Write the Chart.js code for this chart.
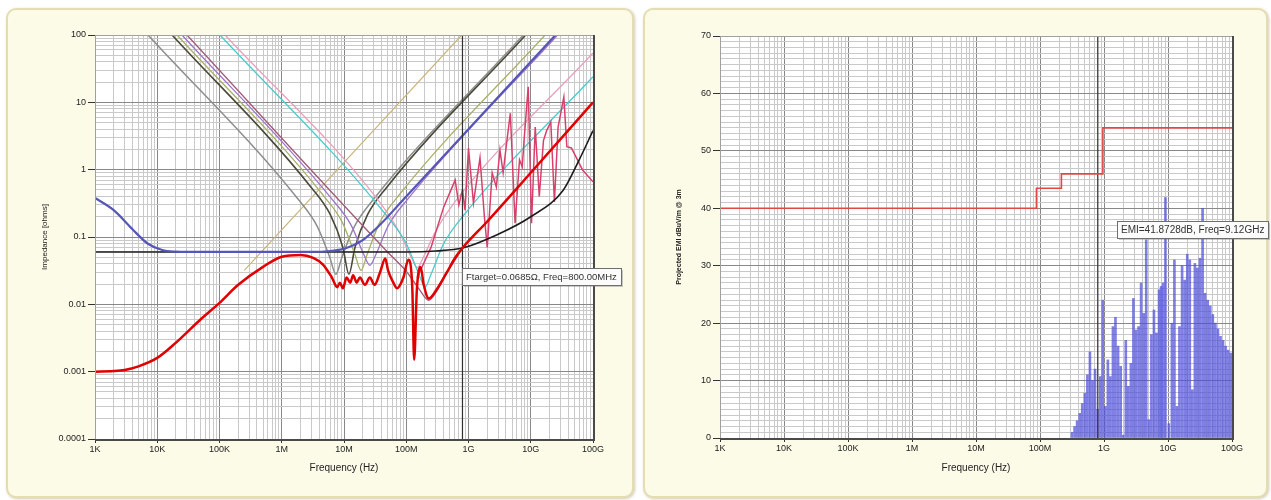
<!DOCTYPE html>
<html>
<head>
<meta charset="utf-8">
<script src="https://cdn.jsdelivr.net/npm/chart.js"></script>
<style>
  html, body { margin: 0; padding: 0; background: #fff; width: 1271px; height: 500px; overflow: hidden; }
  .card { position: absolute; top: 8px; height: 486px; background: #fcfbe8; border: 2px solid #e5ddb2; border-radius: 10px; box-shadow: 1px 1px 3px rgba(150, 140, 90, 0.45); }
  #cardL { left: 6px; width: 624px; }
  #cardR { left: 643px; width: 621px; }
  canvas { position: absolute; top: 8px; }
</style>
</head>
<body>
<div class="card" id="cardL"></div>
<div class="card" id="cardR"></div>
<canvas id="zChart" width="626" height="489" style="left:8px"></canvas>
<canvas id="emiChart" width="626" height="489" style="left:645px"></canvas>
<script>
// axis ticks
const xDecades = [1e3, 1e4, 1e5, 1e6, 1e7, 1e8, 1e9, 1e10, 1e11];
const xTickLabels = ['1K', '10K', '100K', '1M', '10M', '100M', '1G', '10G', '100G'];
const zDecades = [1e-4, 1e-3, 1e-2, 1e-1, 1, 10, 100];
const zTickLabels = ['0.0001', '0.001', '0.01', '0.1', '1', '10', '100'];
const emiTicks = [0, 10, 20, 30, 40, 50, 60, 70];

// markers
const markerFreq = 800e6;
const targetZ = 0.0685;
const emiPeakFreq = 9.12e9;
const emiPeak = 41.8728;

// impedance curves (Hz, ohms)
const redF = [1e3, 2e3, 3e3, 5e3, 1e4, 2e4, 5e4, 1e5, 2e5, 5e5, 1e6, 2e6, 3.2e6, 4.6e6, 6.4e6, 7.8e6, 8.6e6, 9.6e6, 1.1e7, 1.26e7, 1.4e7, 1.6e7, 1.8e7, 2.17e7, 2.6e7, 3.1e7, 3.8e7, 4.6e7, 5.1e7, 6.2e7, 7.1e7, 9e7, 1.08e8, 1.25e8, 1.34e8, 1.48e8, 1.7e8, 1.9e8, 2.3e8, 3e8, 4.5e8, 6e8, 8e8, 2e9, 1e10, 1e11];
const redZ = [0.001, 0.00102, 0.00106, 0.0012, 0.0016, 0.0027, 0.006, 0.0105, 0.0195, 0.036, 0.051, 0.054, 0.049, 0.039, 0.025, 0.018, 0.021, 0.0173, 0.025, 0.021, 0.027, 0.021, 0.025, 0.0195, 0.025, 0.0195, 0.03, 0.048, 0.032, 0.021, 0.0173, 0.025, 0.046, 0.0178, 0.0015, 0.0163, 0.036, 0.02, 0.0122, 0.016, 0.03, 0.048, 0.0685, 0.17, 0.9, 10];

const blackF = [1e3, 1e8, 3e8, 8e8, 3e9, 1e10, 3.3e10, 6e10, 1e11];
const blackZ = [0.06, 0.06, 0.062, 0.0685, 0.11, 0.2, 0.49, 1.4, 3.8];

const navyF = [1e3, 2e3, 4e3, 7e3, 1.2e4, 2e4, 3e4, 3e6, 6e6, 1e7, 2e7, 4e7, 8e7, 2e8, 2.5e10];
const navyZ = [0.38, 0.25, 0.13, 0.08, 0.064, 0.0605, 0.06, 0.06, 0.062, 0.067, 0.09, 0.16, 0.32, 0.8, 100];

const grayF = [7.1e3, 1.85e6, 3.7e6, 5.9e6, 7.4e6, 9.25e6, 1.48e7, 2.96e7, 7.6e9];
const grayZ = [100, 0.36, 0.145, 0.05, 0.028, 0.05, 0.145, 0.36, 100];

const oliveF = [1.73e4, 3e6, 6e6, 9.6e6, 1.2e7, 1.5e7, 2.4e7, 4.8e7, 8.3e9];
const oliveZ = [100, 0.54, 0.216, 0.07, 0.028, 0.07, 0.216, 0.54, 100];

const khakiF = [2.08e4, 4.7e6, 9.4e6, 1.5e7, 1.88e7, 2.35e7, 3.76e7, 7.5e7, 1.7e10];
const khakiZ = [100, 0.41, 0.165, 0.055, 0.032, 0.055, 0.165, 0.41, 100];

const purpleF = [2.5e4, 6.5e6, 1.3e7, 2.08e7, 2.6e7, 3.25e7, 5.2e7, 1.04e8, 2.7e10];
const purpleZ = [100, 0.36, 0.15, 0.055, 0.038, 0.055, 0.15, 0.36, 100];

const mauveF = [3e4, 5e7, 1e8, 1.6e8, 2.3e8, 3e8, 4.5e8, 8e8];
const mauveZ = [100, 0.06, 0.031, 0.017, 0.0115, 0.015, 0.029, 0.068];

const cyanF = [1.02e5, 5e7, 1e8, 1.6e8, 2e8, 2.5e8, 4e8, 8e8, 1e11];
const cyanZ = [100, 0.2, 0.08, 0.028, 0.018, 0.028, 0.08, 0.2, 24];

const pinkF = [1.23e5, 3.75e7, 7.5e7, 1.2e8, 1.5e8, 1.88e8, 3e8, 6e8, 1e11];
const pinkZ = [100, 0.33, 0.125, 0.05, 0.035, 0.05, 0.125, 0.33, 54];

const tanF = [2.5e5, 7.8e8];
const tanZ = [0.032, 100];

const pkgF = [1.5e8, 2.5e8, 4e8, 6.1e8, 7e8, 8e8, 8.8e8, 1e9, 1.2e9, 1.53e9, 1.8e9, 2e9, 2.4e9, 2.8e9, 3.2e9, 3.6e9, 4.1e9, 4.7e9, 5.6e9, 6.6e9, 7.3e9, 7.8e9, 9.1e9, 1.03e10, 1.18e10, 1.37e10, 1.6e10, 1.8e10, 2.1e10, 2.4e10, 2.75e10, 3.4e10, 3.8e10, 4.5e10, 6.8e10, 1e11];
const pkgZ = [0.025, 0.07, 0.28, 0.7, 0.3, 0.5, 0.25, 2.1, 0.32, 1.5, 0.2, 0.07, 0.9, 0.55, 1.95, 0.9, 2.5, 6.9, 0.16, 1.4, 1.1, 2.7, 17, 0.16, 4.3, 0.4, 2.7, 3.8, 5.1, 0.33, 4.3, 12, 2.2, 2.1, 0.99, 0.66];

// EMI spectrum (Hz, dBuV/m) and limit
const emiF = [3.16e8, 3.47e8, 3.8e8, 4.17e8, 4.57e8, 5.01e8, 5.5e8, 6.03e8, 6.61e8, 7.24e8, 7.94e8, 8.71e8, 9.55e8,
  1.05e9, 1.15e9, 1.26e9, 1.38e9, 1.51e9, 1.66e9, 1.82e9, 2.0e9, 2.19e9, 2.4e9, 2.63e9, 2.88e9, 3.16e9, 3.47e9, 3.8e9, 4.17e9, 4.57e9, 5.01e9, 5.5e9, 6.03e9, 6.61e9, 7.24e9, 7.8e9, 8.4e9, 9.12e9,
  1.03e10, 1.15e10, 1.26e10, 1.38e10, 1.51e10, 1.66e10, 1.82e10, 2.0e10, 2.19e10, 2.4e10, 2.63e10, 2.88e10, 3.16e10, 3.47e10, 3.8e10, 4.17e10, 4.57e10, 5.01e10, 5.5e10, 6.03e10, 6.61e10, 7.24e10, 7.94e10, 8.71e10, 9.55e10];
const emiDb = [1, 2, 3, 4.3, 6, 7.8, 11, 15, 10, 12, 5, 10.7, 24,
  5.5, 13.6, 10.7, 19.4, 21, 16, 12.5, 0.5, 17, 9, 13, 24.3, 18.8, 19.4, 27, 21.7, 34.5, 3.2, 18, 22.3, 18.3, 25.8, 26.4, 27, 41.87,
  2.5, 20, 31, 5.5, 19.4, 30, 27.5, 32, 31, 8.4, 30.4, 29.6, 31.3, 40, 25.2, 24, 23, 21.5, 20, 19, 17.7, 17, 16, 15.3, 14.8];

const limitF = [1e3, 88e6, 216e6, 960e6, 1e11];
const limitDb = [40, 43.5, 46, 54, 54];

Chart.defaults.font.family = '"Liberation Sans", Arial, sans-serif';
Chart.defaults.color = '#222';

const pts = (f, v) => f.map((x, i) => ({ x: x, y: v[i] }));
const sameAs = (v, list) => list.some(d => Math.abs(v / d - 1) < 1e-6);
const labelOf = (v, list, labels) => {
  const i = list.findIndex(d => Math.abs(v / d - 1) < 1e-6);
  return i < 0 ? '' : labels[i];
};
function logSteps(decades) {
  const out = [];
  for (let i = 0; i < decades.length - 1; i++) {
    for (let m = 1; m <= 9; m++) out.push(m * decades[i]);
  }
  out.push(decades[decades.length - 1]);
  return out;
}

const MAJOR = '#888888', MINOR = '#c9c9c9';

function freqAxis() {
  return {
    type: 'logarithmic', min: 1e3, max: 1e11, offset: false,
    afterBuildTicks: s => { s.ticks = logSteps(xDecades).map(v => ({ value: v })); },
    afterFit: s => { s.height = s.chart.canvas.id === 'zChart' ? 58 : 59; },
    ticks: { autoSkip: false, maxRotation: 0, padding: 1, font: { size: 9 }, color: '#222',
      callback: v => labelOf(v, xDecades, xTickLabels) },
    grid: { offset: false, tickLength: 4,
      color: c => sameAs(c.tick.value, xDecades) ? MAJOR : MINOR,
      tickColor: c => sameAs(c.tick.value, xDecades) ? '#333' : 'rgba(0,0,0,0)' },
    border: { display: false },
    title: { display: true, text: 'Frequency (Hz)', font: { size: 10 }, color: '#222', padding: { top: 0, bottom: 23 } }
  };
}

const plotFrame = {
  id: 'plotFrame',
  beforeDraw(chart) {
    const { ctx, chartArea: a } = chart;
    ctx.save();
    ctx.fillStyle = '#ffffff';
    ctx.fillRect(a.left, a.top, a.right - a.left, a.bottom - a.top);
    ctx.restore();
  },
  afterDraw(chart, args, opts) {
    const { ctx, chartArea: a, scales } = chart;
    ctx.save();
    ctx.strokeStyle = '#a0a0a0';
    ctx.lineWidth = 1;
    ctx.strokeRect(a.left + 0.5, a.top + 0.5, a.right - a.left, a.bottom - a.top);
    ctx.strokeStyle = '#4a4a4a';
    ctx.lineWidth = 2;
    ctx.beginPath();
    ctx.moveTo(a.left, a.bottom + 1);
    ctx.lineTo(a.right + 2, a.bottom + 1);
    ctx.moveTo(a.right + 1, a.top);
    ctx.lineTo(a.right + 1, a.bottom + 1);
    ctx.stroke();

    const n = opts.note;
    if (n) {
      const px = Math.round(scales.x.getPixelForValue(n.x) + n.dx);
      const py = Math.round(scales.y.getPixelForValue(n.y) + n.dy);
      ctx.font = n.size + 'px "Liberation Sans", Arial, sans-serif';
      const w = Math.round(ctx.measureText(n.text).width + 8);
      const h = 17;
      ctx.fillStyle = 'rgba(110,110,110,0.35)';
      ctx.fillRect(px + 2, py + 2, w, h);
      ctx.fillStyle = '#fbfbfb';
      ctx.fillRect(px, py, w, h);
      ctx.strokeStyle = '#6e6e6e';
      ctx.lineWidth = 1;
      ctx.strokeRect(px + 0.5, py + 0.5, w, h);
      ctx.fillStyle = '#333';
      ctx.textBaseline = 'middle';
      ctx.fillText(n.text, px + 4, py + h / 2 + 1);
    }
    ctx.restore();
  }
};

const curve = (f, z, color, width, order, extra) => Object.assign({
  data: pts(f, z), borderColor: color, borderWidth: width, pointRadius: 0,
  cubicInterpolationMode: 'monotone', order: order
}, extra || {});

new Chart(document.getElementById('zChart'), {
  type: 'line',
  data: {
    datasets: [
      curve(redF, redZ, '#e00000', 2.5, 1),
      curve([markerFreq, markerFreq], [1e-4, 100], '#303030', 1.2, 2, { tension: 0 }),
      curve(blackF, blackZ, '#1c1c1c', 1.6, 4),
      curve(navyF, navyZ, '#5656b8', 2.2, 3),
      curve(pkgF, pkgZ, '#d8406c', 1.5, 5, { tension: 0, cubicInterpolationMode: 'default' }),
      curve(mauveF, mauveZ, '#a05a78', 1.3, 6),
      curve(cyanF, cyanZ, '#48cccc', 1.3, 7),
      curve(pinkF, pinkZ, '#e8a0bc', 1.3, 8),
      curve(purpleF, purpleZ, '#9c74c8', 1.3, 9),
      curve(khakiF, khakiZ, '#a8b068', 1.3, 10),
      curve(oliveF, oliveZ, '#4a4a3a', 1.6, 11),
      curve(grayF, grayZ, '#8e8e8e', 1.5, 12),
      curve(tanF, tanZ, '#c8b47c', 1.2, 13, { tension: 0 })
    ]
  },
  options: {
    responsive: false,
    devicePixelRatio: 1,
    animation: false,
    layout: { padding: { top: 27, right: 41, bottom: 0, left: 0 } },
    plugins: {
      legend: { display: false },
      tooltip: { enabled: false },
      plotFrame: { note: { x: markerFreq, y: targetZ, dx: 0, dy: 20, size: 9.5,
        text: 'Ftarget=' + targetZ.toFixed(4) + 'Ω, Freq=' + (markerFreq / 1e6).toFixed(2) + 'MHz' } }
    },
    scales: {
      x: freqAxis(),
      y: {
        type: 'logarithmic', min: 1e-4, max: 100,
        afterBuildTicks: s => { s.ticks = logSteps(zDecades).map(v => ({ value: v })); },
        afterFit: s => { s.width = 87; },
        ticks: { autoSkip: false, padding: 2, font: { size: 9 }, color: '#222',
          callback: v => labelOf(v, zDecades, zTickLabels) },
        grid: { tickLength: 7,
          color: c => sameAs(c.tick.value, zDecades) ? MAJOR : MINOR,
          tickColor: c => sameAs(c.tick.value, zDecades) ? '#333' : 'rgba(0,0,0,0)' },
        border: { display: false },
        title: { display: true, text: 'Impedance [ohms]', font: { size: 8 }, color: '#222', padding: { top: 32, bottom: 0 } }
      }
    }
  },
  plugins: [plotFrame]
});

new Chart(document.getElementById('emiChart'), {
  type: 'bar',
  data: {
    datasets: [
      { type: 'line', data: pts(limitF, limitDb), stepped: 'before', borderColor: '#e04848', borderWidth: 1.6, pointRadius: 0, order: 1 },
      { type: 'line', data: pts([markerFreq, markerFreq], [0, 70]), borderColor: '#303030', borderWidth: 1.2, pointRadius: 0, order: 2 },
      { type: 'bar', data: pts(emiF, emiDb), backgroundColor: 'rgba(78,78,218,0.72)', borderWidth: 0, barThickness: 2, order: 3 }
    ]
  },
  options: {
    responsive: false,
    devicePixelRatio: 1,
    animation: false,
    layout: { padding: { top: 28, right: 39, bottom: 0, left: 0 } },
    plugins: {
      legend: { display: false },
      tooltip: { enabled: false },
      plotFrame: { note: { x: emiPeakFreq, y: emiPeak, dx: -48, dy: 23, size: 10,
        text: 'EMI=' + emiPeak.toFixed(4) + 'dB, Freq=' + (emiPeakFreq / 1e9).toFixed(2) + 'GHz' } }
    },
    scales: {
      x: freqAxis(),
      y: {
        type: 'linear', min: 0, max: 70,
        afterBuildTicks: s => { const t = []; for (let v = 0; v <= 70; v++) t.push({ value: v }); s.ticks = t; },
        afterFit: s => { s.width = 75; },
        ticks: { autoSkip: false, padding: 2, font: { size: 9 }, color: '#222',
          callback: v => emiTicks.includes(v) ? String(v) : '' },
        grid: { tickLength: 7,
          color: c => emiTicks.includes(c.tick.value) ? MAJOR : MINOR,
          tickColor: c => emiTicks.includes(c.tick.value) ? '#333' : 'rgba(0,0,0,0)' },
        border: { display: false },
        title: { display: true, text: 'Projected EMI dBuV/m @ 3m', font: { size: 7, weight: 'bold' }, color: '#222', padding: { top: 30, bottom: 0 } }
      }
    }
  },
  plugins: [plotFrame]
});
</script>
</body>
</html>
